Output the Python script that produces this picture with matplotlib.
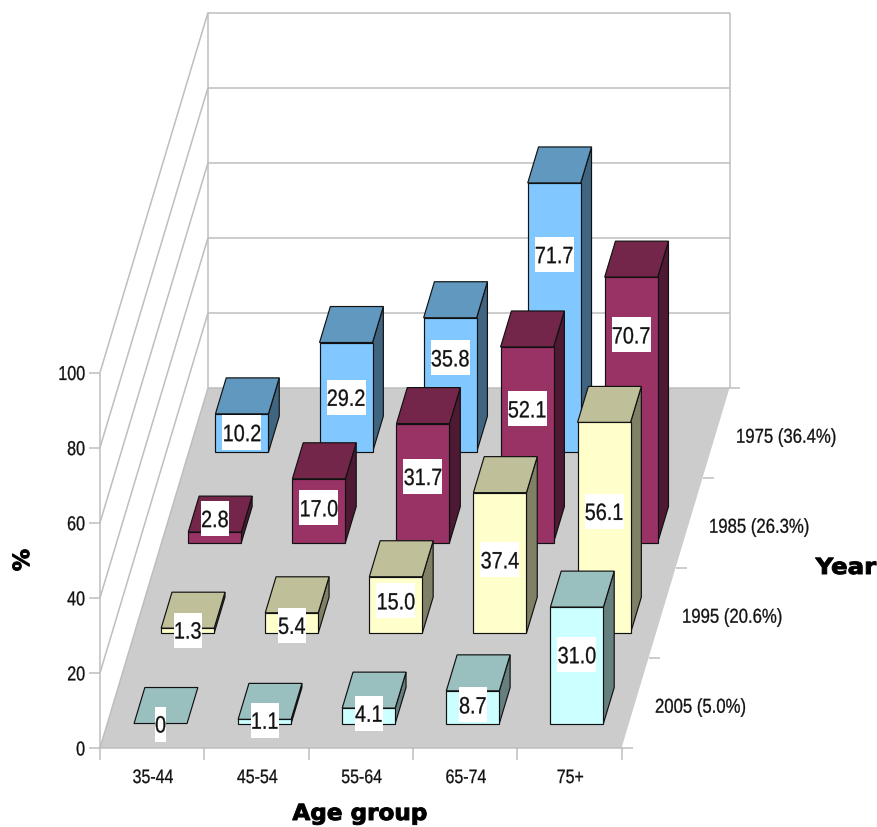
import matplotlib
matplotlib.use("Agg")
import matplotlib.pyplot as plt
from matplotlib.patches import Polygon, Rectangle
from matplotlib.patheffects import AbstractPathEffect
from matplotlib.transforms import Affine2D

# ---- data ----
age_groups = ["35-44", "45-54", "55-64", "65-74", "75+"]
years = ["2005 (5.0%)", "1995 (20.6%)", "1985 (26.3%)", "1975 (36.4%)"]
values_2005 = [0, 1.1, 4.1, 8.7, 31.0]
values_1995 = [1.3, 5.4, 15.0, 37.4, 56.1]
values_1985 = [2.8, 17.0, 31.7, 52.1, 70.7]
values_1975 = [10.2, 29.2, 35.8, 71.7]
y_ticks = [0, 20, 40, 60, 80, 100]

# ---- label heights above the bar base, in % units (labels were hand placed) ----
lift_2005 = [-0.13, 0.86, 2.73, 4.95, 18.3]
lift_1995 = [0.8, 2.06, 8.56, 19.5, 32.4]
lift_1985 = [6.4, 9.25, 17.6, 35.6, 55.3]
lift_1975 = [5.2, 14.6, 25.1, 52.6]

# ---- layout ----
W, H = 878, 827
PX_CAT, PX_VAL = 104.3, 3.755
X0, Y0 = 100, 748
SHIFT_X = 27.0 / PX_CAT   # category units per depth row
SHIFT_Y = 90.0 / PX_VAL   # % units per depth row
BAR_W, BAR_D = 53 / PX_CAT, 0.40
GRID = "#BEBEBE"
INK = "#111111"
LABEL_W = {1: 11, 3: 28, 4: 39}
LABEL_H = 35

front = ["#CCFFFF", "#FFFFCC", "#993366", "#80C8FF"]
top = ["#99BFBF", "#BFBF99", "#732649", "#6098BF"]
side = ["#668080", "#808066", "#4D1933", "#406580"]

fig = plt.figure(figsize=(W / 100, H / 100), dpi=100, facecolor="white")
ax = fig.add_axes([0, 0, 1, 1])
ax.set_xlim(-X0 / PX_CAT, (W - X0) / PX_CAT)
ax.set_ylim((Y0 - H) / PX_VAL, Y0 / PX_VAL)
ax.axis("off")


class Stretch(AbstractPathEffect):
    """Scale glyphs horizontally about the text anchor; optional stroke for weight."""

    def __init__(self, xy, sx, stroke=0.0):
        super().__init__()
        self.xy, self.sx, self.stroke = xy, sx, stroke

    def draw_path(self, renderer, gc, tpath, affine, rgbFace=None):
        px = ax.transData.transform(self.xy)[0]
        tr = affine + Affine2D().translate(-px, 0).scale(self.sx, 1).translate(px, 0)
        if self.stroke:
            gc0 = renderer.new_gc()
            gc0.copy_properties(gc)
            gc0.set_linewidth(self.stroke)
            gc0.set_foreground(rgbFace)
            renderer.draw_path(gc0, tpath, tr, rgbFace)
            gc0.restore()
        else:
            renderer.draw_path(gc, tpath, tr, rgbFace)


def narrow(x, y, s, size, sx=0.84, ha="center", z=5):
    ax.text(x, y, s, ha=ha, va="center_baseline", fontsize=size, family="Liberation Sans",
            color=INK, zorder=z, path_effects=[Stretch((x, y), sx, stroke=0.2)])


def heavy(px, py, s, size, sx, rotation=0):
    x, y = (px - X0) / PX_CAT, (Y0 - py) / PX_VAL
    effect = Stretch((x, y), sx, stroke=0.7)
    ax.text(x, y, s, ha="center", va="center", rotation=rotation, fontsize=size,
            fontweight="bold", family="DejaVu Sans", color="#000000", path_effects=[effect])


def P(c, v, d=0.0):
    return (c + d * SHIFT_X, v + d * SHIFT_Y)


def line(a, b, lw=1.1, z=1):
    ax.plot([a[0], b[0]], [a[1], b[1]], color=GRID, lw=lw, zorder=z,
            solid_capstyle="butt")


def poly(pts, color, z):
    ax.add_patch(Polygon(pts, closed=True, facecolor=color, edgecolor=INK,
                         lw=0.85, joinstyle="miter", zorder=z))


n_cat, n_row = len(age_groups), len(years)
tk_c, tk_v = 11 / PX_CAT, 12 / PX_VAL

# floor
ax.add_patch(Polygon([P(0, 0), P(n_cat, 0), P(n_cat, 0, n_row), P(0, 0, n_row)],
                     closed=True, facecolor="#CCCCCC", edgecolor="none", zorder=0.5))
# walls and grid
for v in y_ticks:
    line(P(0, v), P(0, v, n_row))
    line(P(0, v, n_row), P(n_cat, v, n_row))
    line(P(-tk_c, v), P(0, v))
    narrow(-15 / PX_CAT, v, str(v), 14.5, sx=0.8, ha="right")
line(P(0, 0), P(0, 100))
line(P(0, 0, n_row), P(0, 100, n_row))
line(P(n_cat, 0, n_row), P(n_cat, 100, n_row))
line(P(0, 0), P(n_cat, 0))

# category axis
for i in range(n_cat + 1):
    line(P(i, 0), P(i, -tk_v))
for i, name in enumerate(age_groups):
    narrow(i + 0.51, -7.6, name, 14, sx=0.82)

# year axis
for r in range(n_row + 1):
    a = P(n_cat, 0, r)
    line(a, (a[0] + tk_c, a[1]))
for r, name in enumerate(years):
    a = P(n_cat, 0, r + 0.5)
    narrow(a[0] + 20 / PX_CAT, a[1] - 0.6, name, 14.5, sx=0.83, ha="left")

# bars, back row first
rows = [values_2005, values_1995, values_1985, values_1975]
lifts = [lift_2005, lift_1995, lift_1985, lift_1975]
for r in range(n_row - 1, -1, -1):
    d0 = 0.272 + r * 1.005
    d1 = d0 + BAR_D
    for c, (v, l) in enumerate(zip(rows[r], lifts[r])):
        c0 = c * 0.998 + 0.256
        c1 = c0 + BAR_W
        z = 10 + (n_row - r) * 10 + c
        if v > 0:
            poly([P(c1, 0, d0), P(c1, 0, d1), P(c1, v, d1), P(c1, v, d0)], side[r], z)
        poly([P(c0, v, d0), P(c1, v, d0), P(c1, v, d1), P(c0, v, d1)], top[r], z)
        if v > 0:
            poly([P(c0, 0, d0), P(c1, 0, d0), P(c1, v, d0), P(c0, v, d0)], front[r], z)
        x, y = P((c0 + c1) / 2, l, d0)
        s = "0" if v == 0 else f"{v:.1f}"
        bw, bh = LABEL_W[len(s)] / PX_CAT, LABEL_H / PX_VAL
        ax.add_patch(Rectangle((x - bw / 2, y - bh / 2), bw, bh, fc="white", ec="none", zorder=200))
        narrow(x, y, s, 17, sx=0.84, z=201)

# axis titles
heavy(360, 814, "Age group", 16, 1.04)
heavy(846, 568, "Year", 16, 1.1)
heavy(23, 560, "%", 16, 1.0, rotation=90)

fig.savefig("out.png", dpi=100, facecolor="white")
